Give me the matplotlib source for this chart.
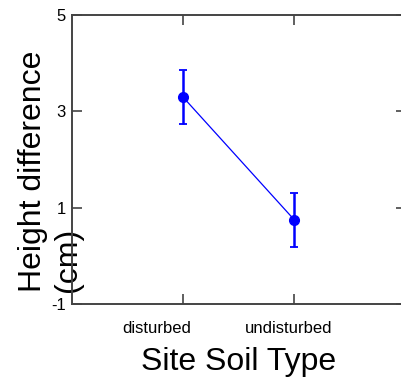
import matplotlib.pyplot as plt
import matplotlib.transforms as mtransforms
import numpy as np

plt.rcParams["font.family"] = ["Liberation Sans", "DejaVu Sans"]
plt.rcParams["axes.unicode_minus"] = False

soil_types = ["disturbed", "undisturbed"]
mean_height = [3.30, 0.75]
err_height = [0.56, 0.56]

fig = plt.figure(figsize=(4.01, 3.79), dpi=100)
# right edge of the box runs just past the figure edge, as in the original
ax = fig.add_axes([71.5 / 401, 1 - 304 / 379, 334 / 401, 289 / 379])

x = np.arange(1, len(soil_types) + 1)
ax.plot(x, mean_height, color="blue", lw=0.9)
ax.errorbar(x, mean_height, yerr=err_height, fmt="o", color="blue",
            ms=7, elinewidth=1.8, capsize=3, capthick=1.3)

ax.set_xlim(0, 3)
ax.set_ylim(-1, 5)
ax.set_xticks(x)
ax.set_xticklabels(soil_types, fontsize=13.3)
ax.set_yticks([-1, 1, 3, 5])
ax.tick_params(direction="in", length=7, width=1.2, color="#444444",
               top=True, right=True, labelsize=12, pad=4)
ax.tick_params(axis="x", pad=12)
for s in ax.spines.values():
    s.set_color("#444444")
    s.set_linewidth(1.4)

# the original tick labels sit a bit left of their ticks
for lab, dx in zip(ax.get_xticklabels(), [-0.26, -0.06]):
    lab.set_transform(lab.get_transform()
                      + mtransforms.ScaledTranslation(dx, 0, fig.dpi_scale_trans))

ax.set_xlabel("Site Soil Type", fontsize=23, labelpad=8)
ax.set_ylabel("Height difference\n(cm)", fontsize=23, multialignment="left")
ax.yaxis.set_label_coords(0.033, 0.458)

fig.savefig("out.png", dpi=100)
